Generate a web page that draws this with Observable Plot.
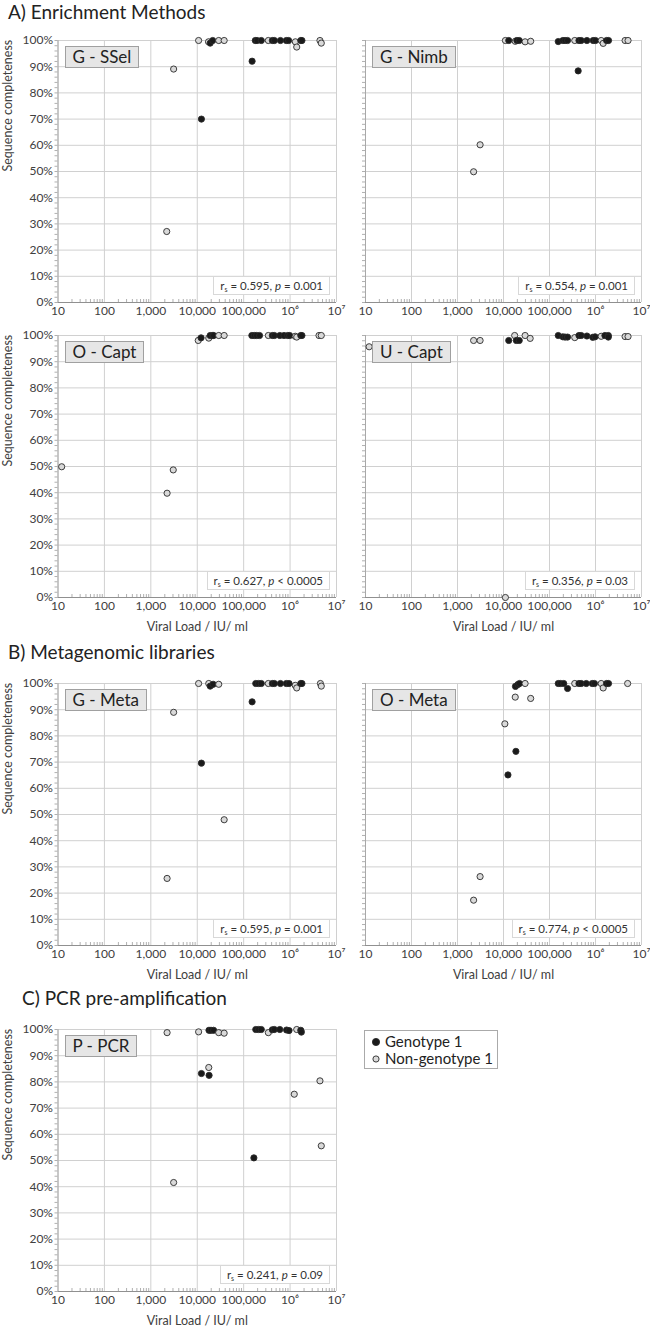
<!DOCTYPE html>
<html><head><meta charset="utf-8">
<script src="https://cdn.jsdelivr.net/npm/d3@7"></script>
<script src="https://cdn.jsdelivr.net/npm/@observablehq/plot@0.6"></script>
<style>
body{margin:0;background:#fff;font-family:Lato, sans-serif;}
#root{position:relative;width:650px;height:1326px;overflow:hidden;background:#fff;}
.sec{position:absolute;font-size:19px;color:#222;white-space:nowrap;}
.pl{position:absolute;}
.tag{position:absolute;background:#e6e6e6;border:1px solid #a0a0a0;font-size:17px;color:#222;box-sizing:border-box;height:22px;line-height:20px;padding:0 7px;white-space:nowrap;}
.stat{position:absolute;background:#fff;border:1px solid #d8d8d8;font-size:11.5px;color:#333;box-sizing:border-box;height:19px;line-height:17px;padding:0 6px;white-space:nowrap;}
.stat sub{font-size:7px;vertical-align:-2px;}
.legend{position:absolute;left:364px;top:1030px;width:134px;height:39px;border:1px solid #aaa;box-sizing:border-box;font-size:15px;color:#222;}
.legend div{position:absolute;left:0;white-space:nowrap;}
</style></head><body><div id="root"></div>
<script>
// ---- axis ticks ----
const xTicks = [10, 100, 1000, 1e4, 1e5, 1e6, 1e7];
const xTickLabels = ["10", "100", "1,000", "10,000", "100,000", "10\u2076", "10\u2077"];
const yTicks = [0, 10, 20, 30, 40, 50, 60, 70, 80, 90, 100];

// ---- data: [viral load IU/ml, sequence completeness %] ----
const sselG1 = [[19000,99],[21500,100],[12300,70],[152000,92.1],[178000,100],[195000,100],[240000,100],[415000,100],[460000,100],[620000,100],[830000,100],[930000,100],[1700000,100],[1800000,100]];
const sselNG1 = [[10700,100],[17500,99.5],[29000,100],[38000,100],[3100,89.1],[2200,27.1],[340000,100],[1300000,99.5],[1390000,97.5],[4400000,100],[4700000,99]];

const nimbG1 = [[13000,100],[19500,100],[22000,100],[155000,99.6],[195000,100],[218000,100],[247000,100],[437000,100],[490000,100],[650000,100],[890000,100],[1000000,100],[1740000,100],[1920000,100],[420000,88.4]];
const nimbNG1 = [[11000,100],[18000,99.7],[29500,99.5],[39000,99.7],[354000,100],[1330000,100],[1470000,98.9],[4400000,100],[5100000,100],[3100,60.2],[2240,49.9]];

const oCaptG1 = [[12100,99.1],[19000,100],[21500,100],[22500,100],[150000,100],[170000,100],[190000,100],[220000,100],[415000,100],[460000,100],[600000,100],[740000,100],[890000,100],[980000,100],[1700000,100],[1800000,100]];
const oCaptNG1 = [[12,49.9],[2240,39.8],[3040,48.7],[10500,98.1],[17700,99],[29000,100],[38000,100],[340000,100],[1290000,99.7],[1390000,99.4],[4200000,100],[4700000,100]];

const uCaptG1 = [[13000,98.1],[19000,98.1],[22000,98.1],[155000,100],[195000,99.5],[218000,99.4],[247000,99.4],[437000,100],[490000,100],[650000,99.8],[870000,99.3],[980000,99.5],[1600000,100],[1900000,100],[1900000,99.4]];
const uCaptNG1 = [[12,95.7],[2240,98.1],[3100,98.1],[17500,100],[29500,100],[38000,98.9],[11000,0],[354000,99.2],[1330000,99.7],[4400000,99.6],[5100000,99.6]];

const gMetaG1 = [[19000,99],[22000,99.7],[12300,69.6],[152000,93],[182000,100],[210000,100],[240000,100],[415000,100],[460000,100],[620000,100],[830000,100],[950000,100],[1700000,100],[1800000,100]];
const gMetaNG1 = [[10700,100],[17700,100],[29000,99.7],[3100,89],[38000,48],[2240,25.6],[340000,100],[1290000,99.3],[1390000,98.3],[4500000,100],[4700000,99]];

const oMetaG1 = [[18200,98.9],[20500,99.6],[22300,100],[18600,74.1],[12500,65.1],[155000,100],[174000,100],[204000,100],[247000,98.1],[437000,100],[490000,100],[630000,100],[850000,100],[950000,100],[1740000,100],[1920000,100]];
const oMetaNG1 = [[29500,100],[18000,94.8],[39000,94.3],[10700,84.6],[3100,26.3],[2240,17.3],[354000,100],[1330000,100],[1470000,98.3],[5000000,100]];

const pcrG1 = [[17900,99.7],[19800,99.7],[22500,99.7],[12300,83.2],[18000,82.5],[166000,51],[182000,100],[210000,100],[240000,100],[415000,99.9],[460000,100],[600000,100],[840000,99.8],[950000,99.6],[1700000,99.7],[1750000,99]];
const pcrNG1 = [[2240,98.8],[10700,99.1],[29000,98.8],[38000,98.6],[17700,85.5],[3100,41.6],[340000,98.8],[1390000,100],[1230000,75.3],[4400000,80.4],[4700000,55.6]];

// ---- panel labels & statistics ----
const panelTags = ["G - SSel", "G - Nimb", "O - Capt", "U - Capt", "G - Meta", "O - Meta", "P - PCR"];
const rsValues = ["0.595", "0.554", "0.627", "0.356", "0.595", "0.774", "0.241"];
const pValues = ["= 0.001", "= 0.001", "< 0.0005", "= 0.03", "= 0.001", "< 0.0005", "= 0.09"];
const sectionTitles = ["A) Enrichment Methods", "B) Metagenomic libraries", "C) PCR pre-amplification"];
const legendLabels = ["Genotype 1", "Non-genotype 1"];
const xLabel = "Viral Load / IU/ ml";
const yLabel = "Sequence completeness";

// ---- layout ----
const cols = [
  {left: 0, width: 352, ml: 57.5, mr: 16},
  {left: 352, width: 298, ml: 13, mr: 9}
];
const FH = 262;
const panels = [
  {g1: sselG1, ng1: sselNG1, col: 0, top: 40, xlab: false},
  {g1: nimbG1, ng1: nimbNG1, col: 1, top: 40, xlab: false},
  {g1: oCaptG1, ng1: oCaptNG1, col: 0, top: 335, xlab: true},
  {g1: uCaptG1, ng1: uCaptNG1, col: 1, top: 335, xlab: true},
  {g1: gMetaG1, ng1: gMetaNG1, col: 0, top: 683, xlab: true},
  {g1: oMetaG1, ng1: oMetaNG1, col: 1, top: 683, xlab: true},
  {g1: pcrG1, ng1: pcrNG1, col: 0, top: 1029, xlab: true}
];

const root = document.getElementById("root");
const minorX = [];
for (let d = 1; d < 7; d++) for (let k = 2; k < 10; k++) minorX.push(k * Math.pow(10, d));
const minorY = d3.range(0, 101, 2);
const labelOf = new Map(xTicks.map((t, i) => [t, xTickLabels[i]]));

panels.forEach((p, i) => {
  const c = cols[p.col];
  const data = [
    ...p.ng1.map(([x, y]) => ({x, y, g: "ng1"})),
    ...p.g1.map(([x, y]) => ({x, y, g: "g1"}))
  ].sort((a, b) => a.x - b.x);
  const marks = [
    Plot.gridX(xTicks, {stroke: "#d0d0d0", strokeOpacity: 1}),
    Plot.gridY(yTicks, {stroke: "#d0d0d0", strokeOpacity: 1}),
    Plot.axisY(minorY, {tickSize: 3, stroke: "#b0b0b0", tickFormat: () => "", label: null}),
    Plot.axisX(minorX, {tickSize: -3, stroke: "#b0b0b0", tickFormat: () => "", label: null}),
    Plot.ruleX([10], {stroke: "#a8a8a8"}),
    Plot.ruleY([0], {stroke: "#909090"}),
    Plot.axisX(xTicks, {tickSize: 0, tickPadding: 4, tickFormat: d => labelOf.get(d), label: null, fill: "#404040"}),
    Plot.dot(data, {x: "x", y: "y", r: 3.1, fill: "g", stroke: "#2a2a2a", strokeWidth: 0.9})
  ];
  if (p.col === 0) {
    marks.push(Plot.axisY(yTicks, {tickSize: 0, tickPadding: 5, tickFormat: d => d + "%", label: null, fill: "#404040"}));
    marks.push(Plot.text([yLabel], {frameAnchor: "left", dx: -50, rotate: -90, fontSize: 12.5, fill: "#404040"}));
  }
  if (p.xlab) marks.push(Plot.text([xLabel], {frameAnchor: "bottom", dy: 33, fontSize: 12.5, fill: "#404040"}));
  const chart = Plot.plot({
    width: c.width, height: FH + 50,
    marginLeft: c.ml, marginRight: c.mr, marginTop: 10, marginBottom: 40,
    x: {type: "log", domain: [10, 1e7]},
    y: {domain: [0, 100]},
    color: {domain: ["g1", "ng1"], range: ["#1a1a1a", "#d9d9d9"]},
    style: {fontFamily: "Lato, sans-serif", fontSize: "12px", color: "#404040", overflow: "visible", background: "transparent"},
    marks
  });
  chart.classList.add("pl");
  chart.style.left = c.left + "px";
  chart.style.top = (p.top - 10) + "px";
  root.appendChild(chart);

  const fl = c.left + c.ml, fr = c.left + c.width - c.mr;
  const tag = document.createElement("div");
  tag.className = "tag";
  tag.textContent = panelTags[i];
  tag.style.left = (fl + 7) + "px";
  tag.style.top = (p.top + 6) + "px";
  root.appendChild(tag);

  const st = document.createElement("div");
  st.className = "stat";
  st.innerHTML = `r<sub>s</sub> = ${rsValues[i]}, <i>p</i> ${pValues[i]}`;
  st.style.right = (650 - (fr - 6)) + "px";
  st.style.top = (p.top + FH - 7 - 19) + "px";
  root.appendChild(st);
});

// section titles
[[8, 0], [8, 640], [22, 986]].forEach(([l, t], i) => {
  const s = document.createElement("div");
  s.className = "sec";
  s.textContent = sectionTitles[i];
  s.style.left = l + "px";
  s.style.top = t + "px";
  root.appendChild(s);
});

// legend
const lg = document.createElement("div");
lg.className = "legend";
lg.innerHTML = legendLabels.map((t, i) => `<div style="top:${i === 0 ? 1 : 18}px;left:6px;"><svg width="14" height="14" style="vertical-align:-2px"><circle cx="5" cy="7" r="${i===0?3.6:3.1}" fill="${i === 0 ? '#1a1a1a' : '#d9d9d9'}" stroke="#2a2a2a" stroke-width="0.9"/></svg>${t}</div>`).join("");
root.appendChild(lg);
</script></body></html>
